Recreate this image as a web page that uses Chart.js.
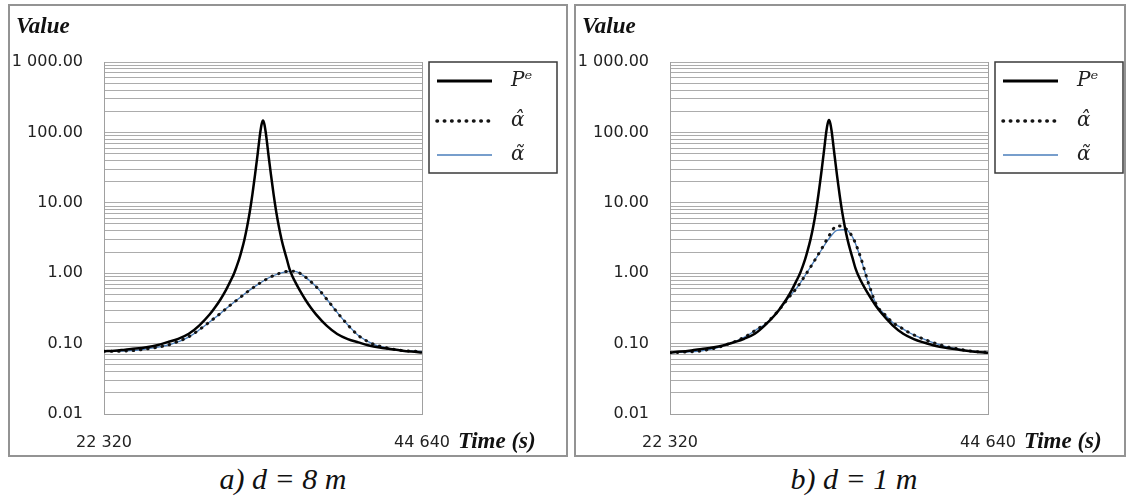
<!DOCTYPE html>
<html>
<head>
<meta charset="utf-8">
<script src="https://cdn.jsdelivr.net/npm/chart.js@4/dist/chart.umd.min.js"></script>
<style>
  body { margin: 0; background: #fff; width: 1126px; height: 498px; overflow: hidden; position: relative; }
  .panel { position: absolute; top: 4px; height: 453px; border: 2px solid #939393; box-sizing: border-box; }
  .panel canvas { position: absolute; left: 0; top: 0; }
  .caption { position: absolute; top: 462px; font: italic 30px "Liberation Serif", serif; color: #111; text-align: center; line-height: 34px; }
</style>
</head>
<body>
<div class="panel" style="left:8px;width:560px"><canvas id="chartA" width="556" height="449"></canvas></div>
<div class="panel" style="left:574px;width:552px"><canvas id="chartB" width="548" height="449"></canvas></div>
<div class="caption" style="left:0;width:566px">a) d = 8 m</div>
<div class="caption" style="left:574px;width:560px">b) d = 1 m</div>
<script>
// temps (s) pour P^e : plus serre autour du pic
const timesP = [22320, 23064, 23808, 24552, 25296, 26040, 26784, 27528, 28272, 29016, 29760,
  30132, 30504, 30876, 31248, 31434, 31620, 31806, 31992, 32178, 32364, 32550, 32643, 32736,
  32829, 32922, 33015, 33108, 33201, 33294, 33387, 33480,
  33573, 33666, 33759, 33852, 33945, 34038, 34131, 34224, 34317, 34410, 34596, 34782, 34968,
  35154, 35340, 35526, 35712, 36084, 36456, 36828, 37200, 37944, 38688, 39432, 40176, 40920,
  41664, 42408, 43152, 43896, 44640];

// temps (s) pour les alphas : pas de 558 s
const timesAlpha = [22320, 22878, 23436, 23994, 24552, 25110, 25668, 26226, 26784, 27342,
  27900, 28458, 29016, 29574, 30132, 30690, 31248, 31806, 32364, 32922, 33480, 34038, 34596,
  35154, 35712, 36270, 36828, 37386, 37944, 38502, 39060, 39618, 40176, 40734, 41292, 41850,
  42408, 42966, 43524, 44082, 44640];

// a) d = 8 m
const pA = [0.078, 0.079, 0.082, 0.085, 0.089, 0.095, 0.105, 0.117, 0.138, 0.182, 0.263,
  0.331, 0.427, 0.575, 0.813, 0.977, 1.23, 1.58, 2.14, 3.02, 4.57, 7.41, 9.77, 13.2,
  18.2, 25.1, 35.5, 50.1, 72.4, 102, 132, 148,
  132, 102, 72.4, 50.1, 35.5, 25.1, 18.2, 13.2, 9.77, 7.41, 4.57, 3.02, 2.14, 1.58, 1.15,
  0.92, 0.77, 0.56, 0.42, 0.325, 0.26, 0.18, 0.137, 0.116, 0.104, 0.094, 0.088, 0.084,
  0.080, 0.077, 0.075];
const hatA = [0.078, 0.078, 0.078, 0.079, 0.080, 0.083, 0.086, 0.090, 0.095, 0.104, 0.115,
  0.132, 0.158, 0.192, 0.235, 0.29, 0.36, 0.44, 0.54, 0.65, 0.77, 0.89, 0.99, 1.06, 1.07,
  0.94, 0.76, 0.59, 0.43, 0.31, 0.225, 0.168, 0.13, 0.11, 0.097, 0.090, 0.085, 0.081, 0.079,
  0.078, 0.077];
const tildeA = [0.078, 0.078, 0.078, 0.079, 0.080, 0.083, 0.086, 0.090, 0.095, 0.103, 0.114,
  0.131, 0.157, 0.191, 0.234, 0.29, 0.36, 0.44, 0.54, 0.65, 0.77, 0.89, 0.99, 1.05, 1.06,
  0.94, 0.76, 0.59, 0.43, 0.31, 0.225, 0.168, 0.13, 0.11, 0.097, 0.090, 0.085, 0.081, 0.079,
  0.078, 0.077];

// b) d = 1 m
const pB = [0.075, 0.077, 0.080, 0.084, 0.088, 0.094, 0.104, 0.117, 0.138, 0.185, 0.265,
  0.335, 0.43, 0.58, 0.82, 0.98, 1.23, 1.58, 2.14, 3.0, 4.5, 7.3, 9.6, 13.0,
  18.0, 25.0, 35.5, 50.5, 73, 104, 134, 150,
  134, 104, 73, 50.5, 35.5, 25.0, 18.0, 13.0, 9.6, 7.3, 4.5, 3.0, 2.14, 1.58, 1.17,
  0.94, 0.78, 0.57, 0.43, 0.33, 0.265, 0.182, 0.138, 0.116, 0.103, 0.093, 0.087, 0.083,
  0.079, 0.076, 0.074];
const hatB = [0.074, 0.075, 0.076, 0.077, 0.079, 0.083, 0.088, 0.096, 0.105, 0.118, 0.136,
  0.162, 0.19, 0.245, 0.33, 0.46, 0.63, 0.93, 1.40, 2.15, 3.4, 4.7, 4.4, 3.2, 1.65, 0.70,
  0.35, 0.26, 0.20, 0.17, 0.145, 0.128, 0.115, 0.104, 0.096, 0.089, 0.085, 0.081, 0.078,
  0.076, 0.075];
const tildeB = [0.074, 0.075, 0.076, 0.077, 0.079, 0.083, 0.088, 0.096, 0.105, 0.118, 0.136,
  0.162, 0.19, 0.245, 0.33, 0.46, 0.63, 0.93, 1.40, 2.1, 3.1, 4.05, 4.15, 3.2, 1.6, 0.69,
  0.35, 0.26, 0.20, 0.17, 0.145, 0.128, 0.115, 0.104, 0.096, 0.089, 0.085, 0.081, 0.078,
  0.076, 0.075];

const seriesLabels = ['Pᵉ', 'α̂', 'α̃'];

// axes
const xTicks = [22320, 44640];
const xTickLabels = ['22 320', '44 640'];
const yDecades = [0.01, 0.1, 1, 10, 100, 1000];
const yTickLabels = ['0.01', '0.10', '1.00', '10.00', '100.00', '1 000.00'];

// lignes de grille : 1..9 x chaque decade
const yGrid = [];
yDecades.slice(0, -1).forEach(d => {
  for (let m = 1; m <= 9; m++) yGrid.push(+(m * d).toPrecision(3));
});
yGrid.push(1000);

function yLabel(v) {
  const i = yDecades.findIndex(d => Math.abs(d - v) / d < 1e-6);
  return i >= 0 ? yTickLabels[i] : '';
}

function pts(ts, vals) {
  return ts.map((t, i) => ({ x: t, y: vals[i] }));
}

// titre "Value", "Time (s)" et legende encadree
const decor = {
  id: 'decor',
  afterDraw(chart) {
    const ctx = chart.ctx;
    const a = chart.chartArea;
    ctx.save();
    ctx.fillStyle = '#111';
    ctx.font = 'bold italic 23px "Liberation Serif", serif';
    ctx.textBaseline = 'alphabetic';
    ctx.fillText('Value', 6, 27);
    ctx.textBaseline = 'middle';
    ctx.fillText('Time (s)', a.right + 36, a.bottom + 28);

    // legende
    const bx = a.right + 7, by = a.top, bw = 128, bh = 111;
    ctx.strokeStyle = '#3a3a3a';
    ctx.lineWidth = 1.5;
    ctx.strokeRect(bx, by, bw, bh);
    const rows = [19, 59, 93];
    chart.data.datasets.forEach((ds, i) => {
      const y = by + rows[i];
      ctx.save();
      ctx.strokeStyle = ds.borderColor;
      ctx.lineWidth = ds.legendWidth;
      ctx.lineCap = ds.borderCapStyle || 'butt';
      ctx.setLineDash(ds.borderDash || []);
      ctx.beginPath();
      ctx.moveTo(bx + 8, y);
      ctx.lineTo(bx + 63, y);
      ctx.stroke();
      ctx.restore();
      ctx.fillStyle = '#222';
      ctx.font = 'italic 20px "DejaVu Serif", serif';
      ctx.fillText(ds.label, bx + 82, y);
    });
    ctx.restore();
  }
};

function makePanel(id, pVals, hatVals, tildeVals, padRight) {
  const ctx = document.getElementById(id).getContext('2d');
  return new Chart(ctx, {
    type: 'line',
    data: {
      datasets: [{
        label: seriesLabels[0],
        data: pts(timesP, pVals),
        borderColor: '#000',
        borderWidth: 2.5,
        legendWidth: 3,
        order: 0
      }, {
        label: seriesLabels[1],
        data: pts(timesAlpha, hatVals),
        borderColor: '#141414',
        borderWidth: 3,
        borderDash: [0.5, 6.8],
        borderCapStyle: 'round',
        legendWidth: 3.5,
        order: 1
      }, {
        label: seriesLabels[2],
        data: pts(timesAlpha, tildeVals),
        borderColor: '#4a7ebb',
        borderWidth: 1.3,
        legendWidth: 1.3,
        order: 2
      }]
    },
    options: {
      responsive: false,
      animation: false,
      events: [],
      layout: { padding: { left: 0, top: 56, right: padRight, bottom: 0 } },
      elements: {
        point: { radius: 0 },
        line: { cubicInterpolationMode: 'monotone', fill: false }
      },
      plugins: {
        legend: { display: false },
        tooltip: { enabled: false }
      },
      scales: {
        x: {
          type: 'linear',
          min: 22320,
          max: 44640,
          afterBuildTicks: s => { s.ticks = xTicks.map(v => ({ value: v })); },
          afterFit: s => { s.height = 41; },
          grid: { color: '#a0a0a0', drawTicks: false },
          border: { display: true, color: '#a0a0a0' },
          ticks: {
            autoSkip: false,
            maxRotation: 0,
            padding: 19,
            color: '#222',
            font: { family: 'DejaVu Sans', size: 16 },
            callback: (v, i) => xTickLabels[i]
          }
        },
        y: {
          type: 'logarithmic',
          min: 0.01,
          max: 1000,
          afterBuildTicks: s => { s.ticks = yGrid.map(v => ({ value: v })); },
          afterFit: s => { s.width = 94; },
          grid: { color: '#acacac', drawTicks: false },
          border: { display: true, color: '#a0a0a0' },
          ticks: {
            autoSkip: false,
            padding: 21,
            color: '#222',
            font: { family: 'DejaVu Sans', size: 16 },
            callback: v => yLabel(v)
          }
        }
      }
    },
    plugins: [decor]
  });
}

makePanel('chartA', pA, hatA, tildeA, 144);
makePanel('chartB', pB, hatB, tildeB, 136);
</script>
</body>
</html>
